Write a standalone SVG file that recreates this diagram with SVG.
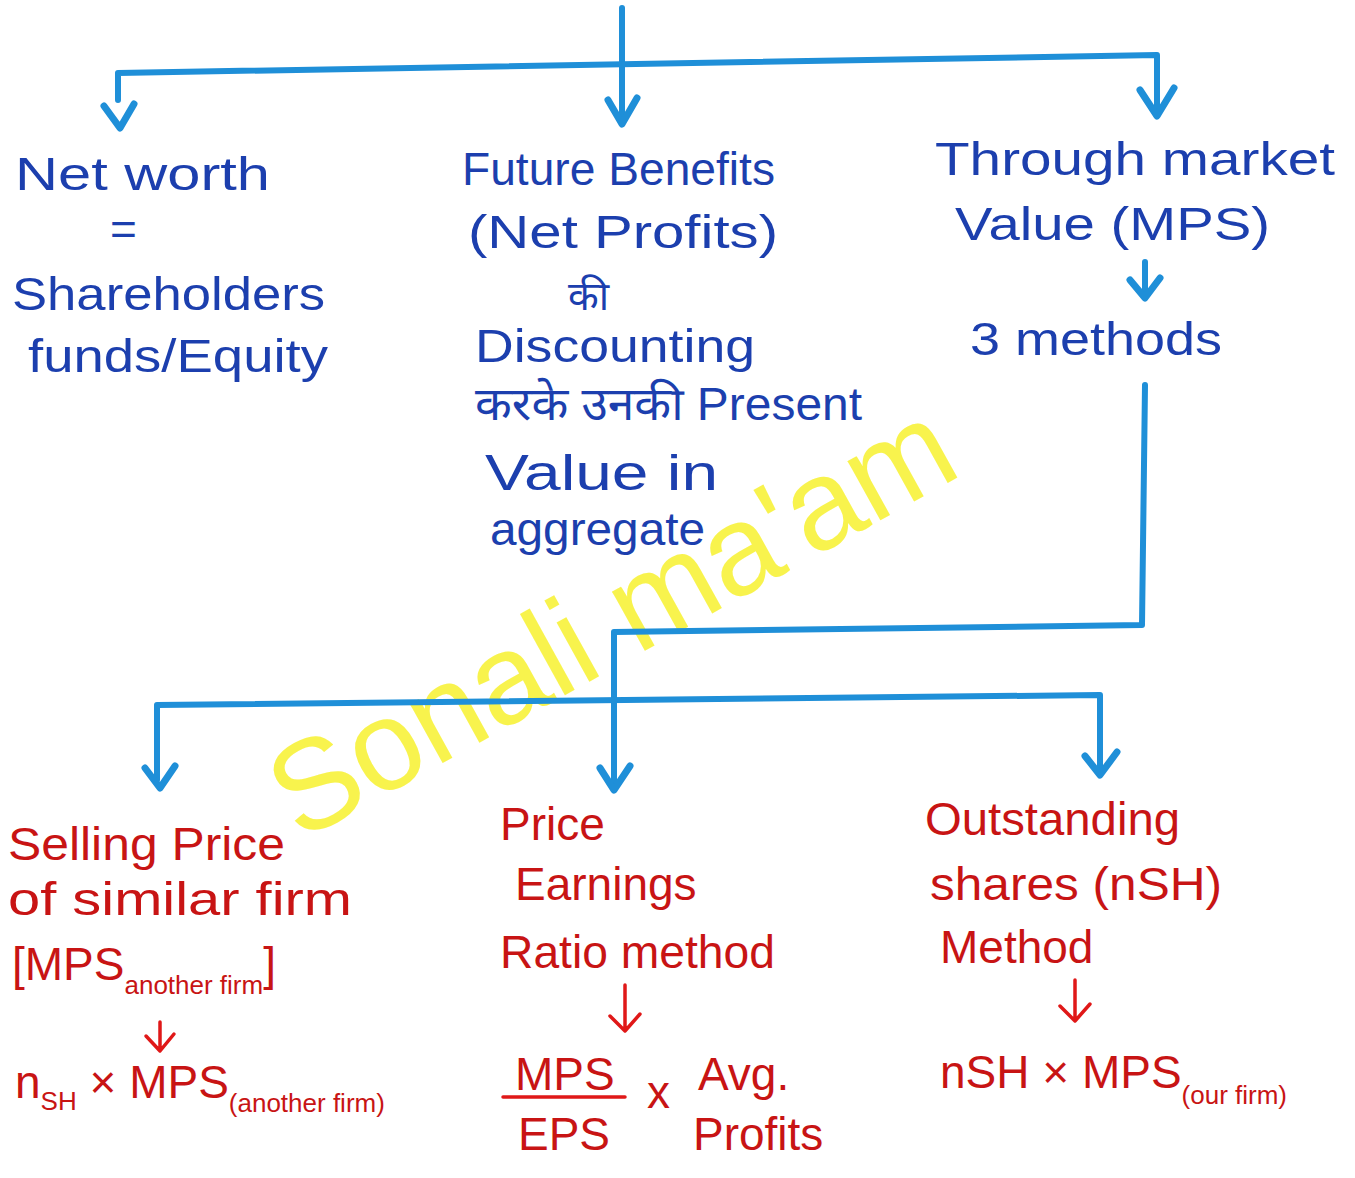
<svg xmlns="http://www.w3.org/2000/svg" width="1355" height="1178" viewBox="0 0 1355 1178">
<defs>
<style>
.conn{fill:none;stroke:#1f8fd8;stroke-width:6;stroke-linecap:round;stroke-linejoin:round}
.head{fill:none;stroke:#1f8fd8;stroke-width:7;stroke-linecap:round;stroke-linejoin:round}
.rarrow{fill:none;stroke:#e01818;stroke-width:3.5;stroke-linecap:round;stroke-linejoin:round}
.b{font-family:"Liberation Sans","Noto Sans Devanagari","Noto Sans",sans-serif;font-size:46px;fill:#1c3fae}
.r{font-family:"Liberation Sans","Noto Sans",sans-serif;font-size:46px;fill:#c81414}
.sub{font-size:26px}
.wm{font-family:"Liberation Sans",Arial,sans-serif;font-size:128px;fill:#f7f23a;fill-opacity:0.9}
</style>
</defs>
<rect width="1355" height="1178" fill="#ffffff"/>

<text class="wm" x="300" y="842" transform="rotate(-29 300 842)" textLength="760" lengthAdjust="spacingAndGlyphs">Sonali ma'am</text>

<g id="connectors">
<path class="conn" d="M622,8 L622,122"/>
<path class="conn" d="M118,100 L118,73 L1157,55 L1157,112"/>
<path class="head" d="M104,106 L120,128 L134,104"/>
<path class="head" d="M608,100 L622,124 L637,98"/>
<path class="head" d="M1140,90 L1157,116 L1174,88"/>
<path class="conn" d="M1145,262 L1145,296"/>
<path class="head" d="M1130,280 L1145,298 L1160,278"/>
<path class="conn" d="M1145,385 L1142,625 L614,632 L614,785"/>
<path class="conn" d="M157,780 L157,705 L1100,695 L1100,772"/>
<path class="head" d="M145,768 L160,788 L175,766"/>
<path class="head" d="M600,768 L614,790 L630,766"/>
<path class="head" d="M1085,756 L1100,775 L1117,752"/>
</g>

<g id="net-worth">
<text class="b" x="15" y="190" textLength="255" lengthAdjust="spacingAndGlyphs">Net worth</text>
<text class="b" x="110" y="245">=</text>
<text class="b" x="12" y="310" textLength="313" lengthAdjust="spacingAndGlyphs">Shareholders</text>
<text class="b" x="28" y="372" textLength="300" lengthAdjust="spacingAndGlyphs">funds/Equity</text>
</g>

<g id="future-benefits">
<text class="b" x="462" y="185" textLength="313" lengthAdjust="spacingAndGlyphs">Future Benefits</text>
<text class="b" x="468" y="248" textLength="310" lengthAdjust="spacingAndGlyphs">(Net Profits)</text>
<text class="b" x="568" y="310" style="font-size:40px">की</text>
<text class="b" x="475" y="362" textLength="280" lengthAdjust="spacingAndGlyphs">Discounting</text>
<text class="b" x="475" y="420" textLength="387" lengthAdjust="spacingAndGlyphs">करके उनकी Present</text>
<text class="b" x="485" y="490" style="font-size:50px" textLength="233" lengthAdjust="spacingAndGlyphs">Value in</text>
<text class="b" x="490" y="545" textLength="215" lengthAdjust="spacingAndGlyphs">aggregate</text>
</g>

<g id="market-value">
<text class="b" x="935" y="175" textLength="400" lengthAdjust="spacingAndGlyphs">Through market</text>
<text class="b" x="955" y="240" textLength="315" lengthAdjust="spacingAndGlyphs">Value (MPS)</text>
<text class="b" x="970" y="355" textLength="252" lengthAdjust="spacingAndGlyphs">3 methods</text>
</g>

<g id="selling-price">
<text class="r" x="8" y="860" textLength="277" lengthAdjust="spacingAndGlyphs">Selling Price</text>
<text class="r" x="8" y="915" textLength="344" lengthAdjust="spacingAndGlyphs">of similar firm</text>
<text class="r" x="12" y="980">[MPS<tspan class="sub" dy="14">another firm</tspan><tspan dy="-14">]</tspan></text>
<path class="rarrow" d="M160,1022 L160,1050 M146,1036 L160,1051 L174,1034"/>
<text class="r" x="15" y="1098">n<tspan class="sub" dy="12">SH</tspan><tspan dy="-12"> × MPS</tspan><tspan class="sub" dy="14">(another firm)</tspan></text>
</g>

<g id="pe-ratio">
<text class="r" x="500" y="840">Price</text>
<text class="r" x="515" y="900">Earnings</text>
<text class="r" x="500" y="968" textLength="275" lengthAdjust="spacingAndGlyphs">Ratio method</text>
<path class="rarrow" d="M625,985 L625,1030 M610,1016 L625,1031 L640,1014"/>
<text class="r" x="515" y="1090">MPS</text>
<path class="rarrow" d="M503,1097 L625,1097"/>
<text class="r" x="518" y="1150">EPS</text>
<text class="r" x="647" y="1108">x</text>
<text class="r" x="698" y="1090">Avg.</text>
<text class="r" x="693" y="1150">Profits</text>
</g>

<g id="outstanding-shares">
<text class="r" x="925" y="835" textLength="255" lengthAdjust="spacingAndGlyphs">Outstanding</text>
<text class="r" x="930" y="900" textLength="292" lengthAdjust="spacingAndGlyphs">shares (nSH)</text>
<text class="r" x="940" y="963">Method</text>
<path class="rarrow" d="M1075,980 L1075,1020 M1060,1006 L1075,1021 L1090,1004"/>
<text class="r" x="940" y="1088">nSH × MPS<tspan class="sub" dy="16">(our firm)</tspan></text>
</g>
</svg>
